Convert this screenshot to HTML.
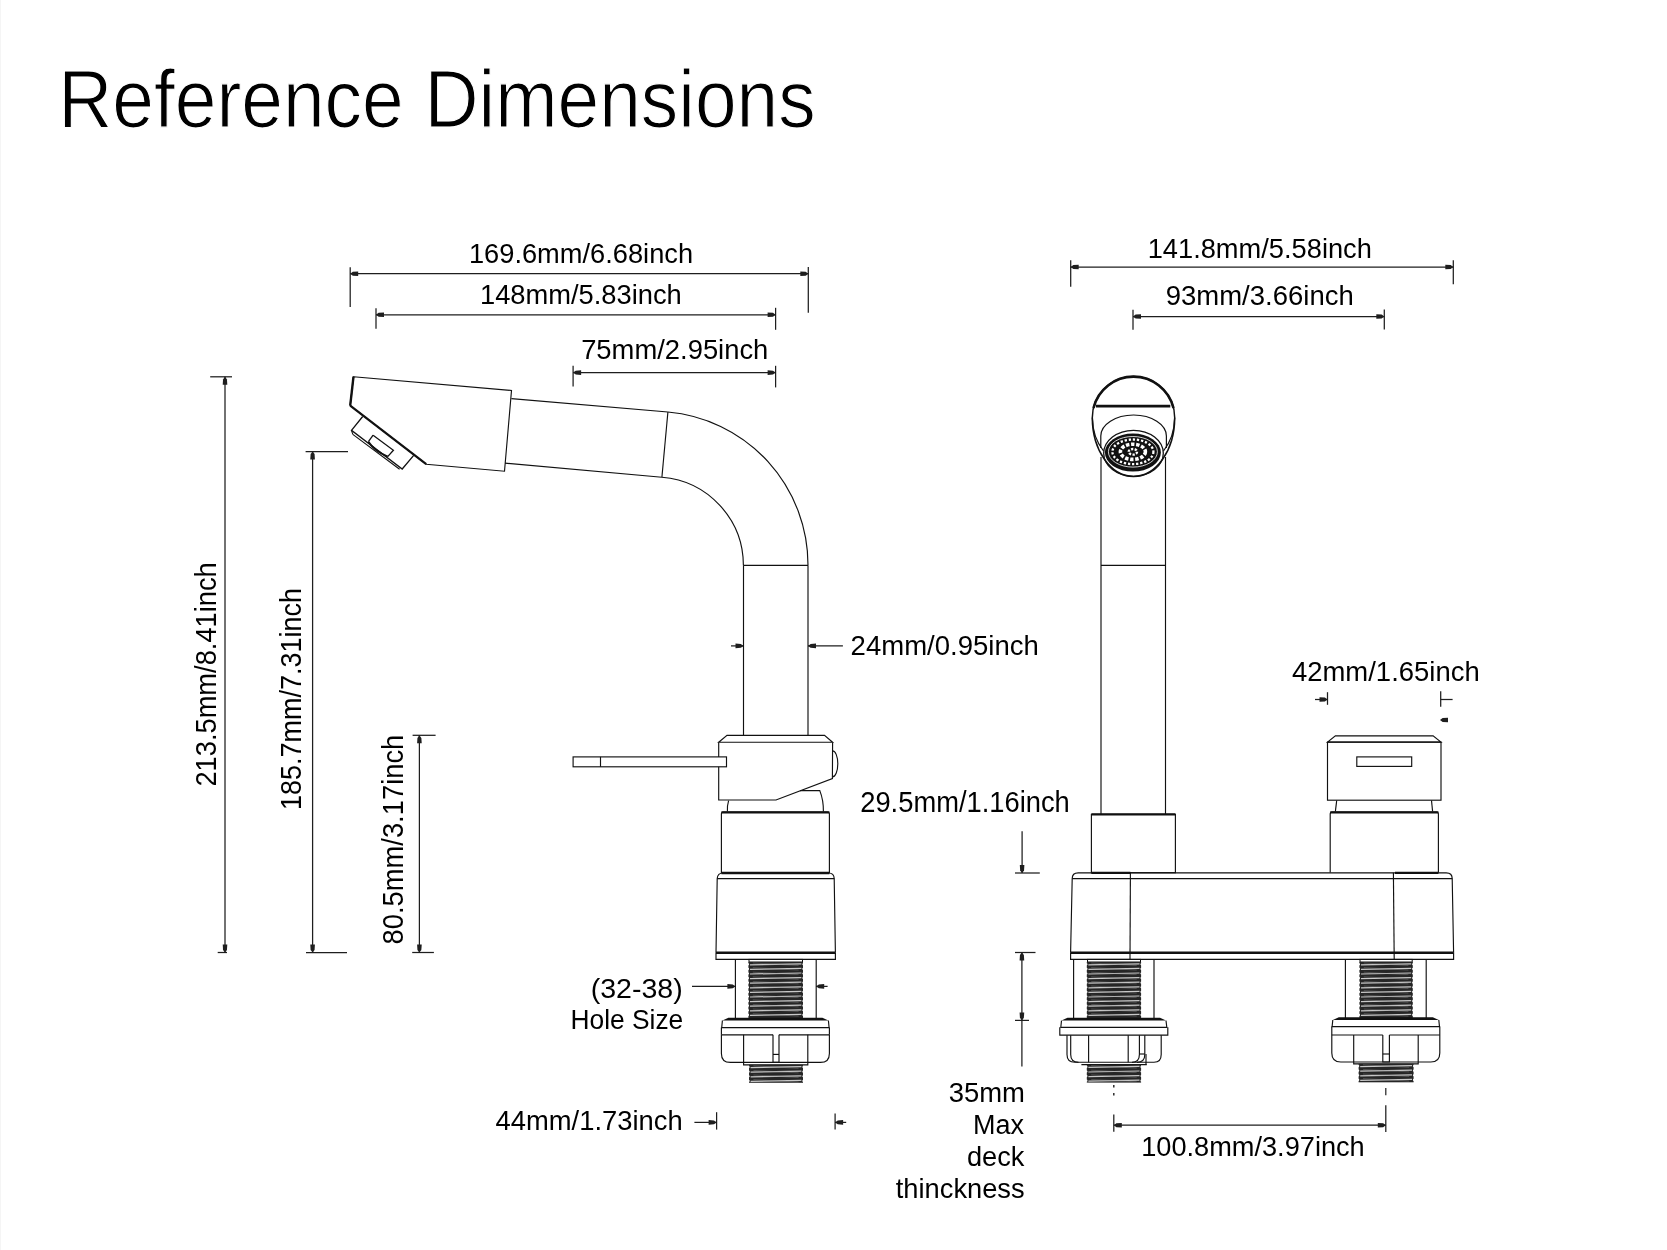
<!DOCTYPE html>
<html><head><meta charset="utf-8"><title>Reference Dimensions</title>
<style>
html,body{margin:0;padding:0;background:#fff;}
body{width:1667px;height:1250px;overflow:hidden;border-left:1px solid #f2f2f2;box-sizing:border-box;}
svg{position:absolute;left:0;top:0;display:block;will-change:transform;}
text{font-family:"Liberation Sans",sans-serif;}
</style></head><body>
<svg width="1667" height="1250" viewBox="0 0 1667 1250">
<rect x="0" y="0" width="1667" height="1250" fill="#fff"/>
<line x1="0.5" y1="0" x2="0.5" y2="1250" stroke="#f5f5f5" stroke-width="1"/>
<text transform="translate(58.22 126.80) scale(0.9128 1)" font-size="82.04" fill="#000" stroke="#fff" stroke-width="1.2">Reference Dimensions</text>
<text transform="translate(468.96 263.20) scale(0.9758 1)" font-size="27.93" fill="#000">169.6mm/6.68inch</text>
<text transform="translate(479.95 304.20) scale(0.9782 1)" font-size="27.93" fill="#000">148mm/5.83inch</text>
<text transform="translate(581.13 358.90) scale(0.9806 1)" font-size="27.93" fill="#000">75mm/2.95inch</text>
<line x1="350.2" y1="267.2" x2="350.2" y2="307" stroke="#1e1e1e" stroke-width="1.25"/>
<line x1="808.3" y1="267.1" x2="808.3" y2="312.7" stroke="#1e1e1e" stroke-width="1.25"/>
<line x1="350.2" y1="273.7" x2="808.3" y2="273.7" stroke="#1e1e1e" stroke-width="1.25"/>
<path d="M350.20 273.70 L352.80 271.75 L358.20 271.40 L358.20 276.00 L352.80 275.65Z" fill="#1e1e1e"/>
<path d="M808.30 273.70 L805.70 271.75 L800.30 271.40 L800.30 276.00 L805.70 275.65Z" fill="#1e1e1e"/>
<line x1="376" y1="308.2" x2="376" y2="328.7" stroke="#1e1e1e" stroke-width="1.25"/>
<line x1="775.6" y1="307.8" x2="775.6" y2="329.8" stroke="#1e1e1e" stroke-width="1.25"/>
<line x1="376" y1="314.8" x2="775.6" y2="314.8" stroke="#1e1e1e" stroke-width="1.25"/>
<path d="M376.00 314.80 L378.60 312.85 L384.00 312.50 L384.00 317.10 L378.60 316.75Z" fill="#1e1e1e"/>
<path d="M775.60 314.80 L773.00 312.85 L767.60 312.50 L767.60 317.10 L773.00 316.75Z" fill="#1e1e1e"/>
<line x1="573.1" y1="365.8" x2="573.1" y2="386.5" stroke="#1e1e1e" stroke-width="1.25"/>
<line x1="775.6" y1="365.8" x2="775.6" y2="387.4" stroke="#1e1e1e" stroke-width="1.25"/>
<line x1="573.1" y1="372.6" x2="775.6" y2="372.6" stroke="#1e1e1e" stroke-width="1.25"/>
<path d="M573.10 372.60 L575.70 370.65 L581.10 370.30 L581.10 374.90 L575.70 374.56Z" fill="#1e1e1e"/>
<path d="M775.60 372.60 L773.00 370.65 L767.60 370.30 L767.60 374.90 L773.00 374.56Z" fill="#1e1e1e"/>
<text transform="translate(216.00 786.56) rotate(-90) scale(0.9472 1)" font-size="28.80" fill="#000">213.5mm/8.41inch</text>
<text transform="translate(301.00 810.02) rotate(-90) scale(0.9372 1)" font-size="28.80" fill="#000">185.7mm/7.31inch</text>
<text transform="translate(402.50 944.46) rotate(-90) scale(0.9496 1)" font-size="28.80" fill="#000">80.5mm/3.17inch</text>
<line x1="210.2" y1="376.8" x2="232" y2="376.8" stroke="#1e1e1e" stroke-width="1.25"/>
<line x1="217.7" y1="952.5" x2="227" y2="952.5" stroke="#1e1e1e" stroke-width="1.25"/>
<line x1="225" y1="376.8" x2="225" y2="952.5" stroke="#1e1e1e" stroke-width="1.25"/>
<path d="M225.00 376.80 L223.04 379.40 L222.70 384.80 L227.30 384.80 L226.96 379.40Z" fill="#1e1e1e"/>
<path d="M225.00 952.50 L223.04 949.90 L222.70 944.50 L227.30 944.50 L226.96 949.90Z" fill="#1e1e1e"/>
<line x1="305.6" y1="451.5" x2="348" y2="451.5" stroke="#1e1e1e" stroke-width="1.25"/>
<line x1="306" y1="952.5" x2="347" y2="952.5" stroke="#1e1e1e" stroke-width="1.25"/>
<line x1="312.6" y1="451.5" x2="312.6" y2="952.5" stroke="#1e1e1e" stroke-width="1.25"/>
<path d="M312.60 451.50 L310.65 454.10 L310.30 459.50 L314.90 459.50 L314.56 454.10Z" fill="#1e1e1e"/>
<path d="M312.60 952.50 L310.65 949.90 L310.30 944.50 L314.90 944.50 L314.56 949.90Z" fill="#1e1e1e"/>
<line x1="412.6" y1="735.3" x2="435.6" y2="735.3" stroke="#1e1e1e" stroke-width="1.25"/>
<line x1="412.2" y1="952.5" x2="433.9" y2="952.5" stroke="#1e1e1e" stroke-width="1.25"/>
<line x1="419.4" y1="735.3" x2="419.4" y2="952.5" stroke="#1e1e1e" stroke-width="1.25"/>
<path d="M419.40 735.30 L417.44 737.90 L417.10 743.30 L421.70 743.30 L421.35 737.90Z" fill="#1e1e1e"/>
<path d="M419.40 952.50 L417.44 949.90 L417.10 944.50 L421.70 944.50 L421.35 949.90Z" fill="#1e1e1e"/>
<text transform="translate(850.62 654.90) scale(0.9808 1)" font-size="28.07" fill="#000">24mm/0.95inch</text>
<line x1="731" y1="645.9" x2="743.5" y2="645.9" stroke="#1e1e1e" stroke-width="1.25"/>
<path d="M743.50 645.90 L740.90 643.94 L735.50 643.60 L735.50 648.20 L740.90 647.86Z" fill="#1e1e1e"/>
<line x1="808" y1="645.9" x2="842.9" y2="645.9" stroke="#1e1e1e" stroke-width="1.25"/>
<path d="M808.00 645.90 L810.60 643.94 L816.00 643.60 L816.00 648.20 L810.60 647.86Z" fill="#1e1e1e"/>
<text transform="translate(590.72 997.50) scale(1.0440 1)" font-size="27.35" fill="#000">(32-38)</text>
<text transform="translate(570.53 1029.00) scale(0.9637 1)" font-size="27.35" fill="#000">Hole Size</text>
<line x1="692" y1="986.4" x2="735.4" y2="986.4" stroke="#1e1e1e" stroke-width="1.25"/>
<path d="M735.40 986.40 L732.80 984.44 L727.40 984.10 L727.40 988.70 L732.80 988.36Z" fill="#1e1e1e"/>
<line x1="816.2" y1="986.4" x2="827.6" y2="986.4" stroke="#1e1e1e" stroke-width="1.25"/>
<path d="M816.20 986.40 L818.80 984.44 L824.20 984.10 L824.20 988.70 L818.80 988.36Z" fill="#1e1e1e"/>
<text transform="translate(495.58 1129.90) scale(0.9803 1)" font-size="27.93" fill="#000">44mm/1.73inch</text>
<line x1="716.6" y1="1112.2" x2="716.6" y2="1129.6" stroke="#1e1e1e" stroke-width="1.25"/>
<line x1="694.4" y1="1122.4" x2="716.6" y2="1122.4" stroke="#1e1e1e" stroke-width="1.25"/>
<path d="M716.60 1122.40 L714.00 1120.45 L708.60 1120.10 L708.60 1124.70 L714.00 1124.36Z" fill="#1e1e1e"/>
<line x1="835.1" y1="1113.4" x2="835.1" y2="1129.6" stroke="#1e1e1e" stroke-width="1.25"/>
<line x1="835.1" y1="1122.4" x2="846.2" y2="1122.4" stroke="#1e1e1e" stroke-width="1.25"/>
<path d="M835.10 1122.40 L837.70 1120.45 L843.10 1120.10 L843.10 1124.70 L837.70 1124.36Z" fill="#1e1e1e"/>
<path d="M353.5 376.7 L511.5 390.5 L504.5 471.2 L426.2 464.2 L350.2 405.6 Z" stroke="#111" stroke-width="1.15" fill="none" />
<line x1="353.5" y1="376.7" x2="350.2" y2="405.6" stroke="#111" stroke-width="2.4"/>
<line x1="350.2" y1="405.6" x2="426.2" y2="464.2" stroke="#111" stroke-width="2.2"/>
<path d="M362.7 416.5 L351.5 430.3 L402.2 469 L413.7 455.3" stroke="#111" stroke-width="1.3" fill="none" />
<line x1="352.8" y1="434.4" x2="399.6" y2="469.3" stroke="#111" stroke-width="1.1"/>
<line x1="351.5" y1="430.3" x2="352.8" y2="434.4" stroke="#111" stroke-width="1.1"/>
<path d="M373.1 435.2 L393.4 450.3 L387.7 456.6" stroke="#111" stroke-width="1.3" fill="none" />
<path d="M373.1 435.2 L368.4 441.7" stroke="#111" stroke-width="1.3" fill="none" />
<path d="M368.4 441.7 Q374 450.5 387.7 456.6" stroke="#111" stroke-width="2.0" fill="none" />
<line x1="511.4" y1="398.6" x2="667.9" y2="412" stroke="#111" stroke-width="1.15"/>
<line x1="505" y1="463.1" x2="661.9" y2="477.2" stroke="#111" stroke-width="1.15"/>
<line x1="667.9" y1="412" x2="661.9" y2="477.2" stroke="#111" stroke-width="1.15"/>
<path d="M667.9 412 A153.6 153.6 0 0 1 808 565.3" stroke="#111" stroke-width="1.15" fill="none" />
<path d="M661.9 477.2 A88.6 88.6 0 0 1 743.4 565.3" stroke="#111" stroke-width="1.15" fill="none" />
<line x1="743.4" y1="565.3" x2="808" y2="565.3" stroke="#111" stroke-width="1.15"/>
<line x1="743.5" y1="565.3" x2="743.5" y2="735.3" stroke="#111" stroke-width="1.15"/>
<line x1="808" y1="565.3" x2="808" y2="735.3" stroke="#111" stroke-width="1.15"/>
<path d="M727 735.3 L824.5 735.3 L832.6 742.2 L718.7 742.2 Z" stroke="#111" stroke-width="1.15" fill="none" />
<path d="M718.7 742.2 L718.7 800 L776 800 L832.4 778.6 L832.6 742.2" stroke="#111" stroke-width="1.15" fill="none" />
<path d="M832.6 750.8 A5.2 13 0 0 1 832.6 776.8" stroke="#111" stroke-width="1.15" fill="none" />
<rect x="573.1" y="756.9" width="153.40" height="9.90" stroke="#111" stroke-width="1.15" fill="#fff"/>
<line x1="600.5" y1="756.9" x2="600.5" y2="766.8" stroke="#111" stroke-width="1.15"/>
<path d="M728.6 800.6 Q727 806 727.4 811.4" stroke="#111" stroke-width="1.15" fill="none" />
<path d="M800 790.6 L819.8 790.6 Q823.5 800 823.4 811.4" stroke="#111" stroke-width="1.15" fill="none" />
<path d="M721.4 873 L721.4 814 Q721.4 812 723.4 812 L827.4 812 Q829.4 812 829.4 814 L829.4 873" stroke="#111" stroke-width="1.15" fill="none" />
<line x1="721.4" y1="812.3" x2="829.4" y2="812.3" stroke="#111" stroke-width="2.2"/>
<line x1="721.4" y1="873" x2="829.4" y2="873" stroke="#111" stroke-width="2.4"/>
<path d="M716 952.8 L717.2 878.6 Q717.6 873 723 873 M828.5 873 Q834 873 834.2 878.6 L835.4 952.8" stroke="#111" stroke-width="1.15" fill="none" />
<line x1="717.2" y1="878.6" x2="834.2" y2="878.6" stroke="#111" stroke-width="1.15"/>
<line x1="716" y1="952.8" x2="835.4" y2="952.8" stroke="#111" stroke-width="2.4"/>
<path d="M716 952.8 L716 959.4 L835.4 959.4 L835.4 952.8" stroke="#111" stroke-width="1.15" fill="none" />
<line x1="735.4" y1="959.4" x2="735.4" y2="1018" stroke="#111" stroke-width="1.15"/>
<line x1="816.2" y1="959.4" x2="816.2" y2="1018" stroke="#111" stroke-width="1.15"/>
<rect x="749" y="959.4" width="53.50" height="2.60" stroke="#111" stroke-width="1.0" fill="none"/>
<rect x="748.4" y="962" width="54.60" height="56.50" fill="#262626"/>
<line x1="750.0" y1="964.80" x2="801.4" y2="963.80" stroke="#fff" stroke-width="1.25" opacity="0.75"/>
<line x1="752.8" y1="963.00" x2="798.6" y2="965.50" stroke="#888" stroke-width="0.6" opacity="0.7"/>
<circle cx="748.0" cy="964.30" r="1.1" fill="#fff"/>
<circle cx="803.4" cy="964.30" r="1.1" fill="#fff"/>
<line x1="750.0" y1="969.40" x2="801.4" y2="968.40" stroke="#fff" stroke-width="1.25" opacity="0.75"/>
<line x1="752.8" y1="967.60" x2="798.6" y2="970.10" stroke="#888" stroke-width="0.6" opacity="0.7"/>
<circle cx="748.0" cy="968.90" r="1.1" fill="#fff"/>
<circle cx="803.4" cy="968.90" r="1.1" fill="#fff"/>
<line x1="750.0" y1="974.00" x2="801.4" y2="973.00" stroke="#fff" stroke-width="1.25" opacity="0.75"/>
<line x1="752.8" y1="972.20" x2="798.6" y2="974.70" stroke="#888" stroke-width="0.6" opacity="0.7"/>
<circle cx="748.0" cy="973.50" r="1.1" fill="#fff"/>
<circle cx="803.4" cy="973.50" r="1.1" fill="#fff"/>
<line x1="750.0" y1="978.60" x2="801.4" y2="977.60" stroke="#fff" stroke-width="1.25" opacity="0.75"/>
<line x1="752.8" y1="976.80" x2="798.6" y2="979.30" stroke="#888" stroke-width="0.6" opacity="0.7"/>
<circle cx="748.0" cy="978.10" r="1.1" fill="#fff"/>
<circle cx="803.4" cy="978.10" r="1.1" fill="#fff"/>
<line x1="750.0" y1="983.20" x2="801.4" y2="982.20" stroke="#fff" stroke-width="1.25" opacity="0.75"/>
<line x1="752.8" y1="981.40" x2="798.6" y2="983.90" stroke="#888" stroke-width="0.6" opacity="0.7"/>
<circle cx="748.0" cy="982.70" r="1.1" fill="#fff"/>
<circle cx="803.4" cy="982.70" r="1.1" fill="#fff"/>
<line x1="750.0" y1="987.80" x2="801.4" y2="986.80" stroke="#fff" stroke-width="1.25" opacity="0.75"/>
<line x1="752.8" y1="986.00" x2="798.6" y2="988.50" stroke="#888" stroke-width="0.6" opacity="0.7"/>
<circle cx="748.0" cy="987.30" r="1.1" fill="#fff"/>
<circle cx="803.4" cy="987.30" r="1.1" fill="#fff"/>
<line x1="750.0" y1="992.40" x2="801.4" y2="991.40" stroke="#fff" stroke-width="1.25" opacity="0.75"/>
<line x1="752.8" y1="990.60" x2="798.6" y2="993.10" stroke="#888" stroke-width="0.6" opacity="0.7"/>
<circle cx="748.0" cy="991.90" r="1.1" fill="#fff"/>
<circle cx="803.4" cy="991.90" r="1.1" fill="#fff"/>
<line x1="750.0" y1="997.00" x2="801.4" y2="996.00" stroke="#fff" stroke-width="1.25" opacity="0.75"/>
<line x1="752.8" y1="995.20" x2="798.6" y2="997.70" stroke="#888" stroke-width="0.6" opacity="0.7"/>
<circle cx="748.0" cy="996.50" r="1.1" fill="#fff"/>
<circle cx="803.4" cy="996.50" r="1.1" fill="#fff"/>
<line x1="750.0" y1="1001.60" x2="801.4" y2="1000.60" stroke="#fff" stroke-width="1.25" opacity="0.75"/>
<line x1="752.8" y1="999.80" x2="798.6" y2="1002.30" stroke="#888" stroke-width="0.6" opacity="0.7"/>
<circle cx="748.0" cy="1001.10" r="1.1" fill="#fff"/>
<circle cx="803.4" cy="1001.10" r="1.1" fill="#fff"/>
<line x1="750.0" y1="1006.20" x2="801.4" y2="1005.20" stroke="#fff" stroke-width="1.25" opacity="0.75"/>
<line x1="752.8" y1="1004.40" x2="798.6" y2="1006.90" stroke="#888" stroke-width="0.6" opacity="0.7"/>
<circle cx="748.0" cy="1005.70" r="1.1" fill="#fff"/>
<circle cx="803.4" cy="1005.70" r="1.1" fill="#fff"/>
<line x1="750.0" y1="1010.80" x2="801.4" y2="1009.80" stroke="#fff" stroke-width="1.25" opacity="0.75"/>
<line x1="752.8" y1="1009.00" x2="798.6" y2="1011.50" stroke="#888" stroke-width="0.6" opacity="0.7"/>
<circle cx="748.0" cy="1010.30" r="1.1" fill="#fff"/>
<circle cx="803.4" cy="1010.30" r="1.1" fill="#fff"/>
<line x1="750.0" y1="1015.40" x2="801.4" y2="1014.40" stroke="#fff" stroke-width="1.25" opacity="0.75"/>
<line x1="752.8" y1="1013.60" x2="798.6" y2="1016.10" stroke="#888" stroke-width="0.6" opacity="0.7"/>
<circle cx="748.0" cy="1014.90" r="1.1" fill="#fff"/>
<circle cx="803.4" cy="1014.90" r="1.1" fill="#fff"/>
<path d="M728.4 1017.6999999999999 L822.4 1017.6999999999999 L828.4 1020.5 L722.4 1020.5Z" fill="#111"/>
<path d="M722.4 1020.5 L721.6999999999999 1027.6 L829.1 1027.6 L828.4 1020.5" stroke="#111" stroke-width="1.15" fill="none" />
<path d="M721.4 1027.6 L721.4 1034.8 M829.4 1027.6 L829.4 1034.8" stroke="#111" stroke-width="1.15" fill="none" />
<line x1="721.4" y1="1034.8" x2="773" y2="1034.8" stroke="#111" stroke-width="1.15"/>
<line x1="779" y1="1034.8" x2="829.4" y2="1034.8" stroke="#111" stroke-width="1.15"/>
<path d="M721.4 1034.8 L721.4 1053.4 Q721.4 1062.4 730.4 1062.4 L820.4 1062.4 Q829.4 1062.4 829.4 1053.4 L829.4 1034.8" stroke="#111" stroke-width="1.15" fill="none" />
<path d="M743.6 1034.8 L743.6 1064.8 L807.8 1064.8 L807.8 1034.8" stroke="#111" stroke-width="1.15" fill="none" />
<path d="M773 1034.8 L773 1062.4 L779 1062.4 L779 1034.8" stroke="#111" stroke-width="1.15" fill="none" />
<line x1="773" y1="1054.4" x2="779" y2="1054.4" stroke="#111" stroke-width="1.15"/>
<rect x="749.0" y="1064.8" width="54.00" height="18.00" fill="#262626"/>
<line x1="750.6" y1="1067.60" x2="801.4" y2="1066.60" stroke="#fff" stroke-width="1.25" opacity="0.75"/>
<line x1="753.4" y1="1065.80" x2="798.6" y2="1068.30" stroke="#888" stroke-width="0.6" opacity="0.7"/>
<circle cx="748.6" cy="1067.10" r="1.1" fill="#fff"/>
<circle cx="803.4" cy="1067.10" r="1.1" fill="#fff"/>
<line x1="750.6" y1="1072.20" x2="801.4" y2="1071.20" stroke="#fff" stroke-width="1.25" opacity="0.75"/>
<line x1="753.4" y1="1070.40" x2="798.6" y2="1072.90" stroke="#888" stroke-width="0.6" opacity="0.7"/>
<circle cx="748.6" cy="1071.70" r="1.1" fill="#fff"/>
<circle cx="803.4" cy="1071.70" r="1.1" fill="#fff"/>
<line x1="750.6" y1="1076.80" x2="801.4" y2="1075.80" stroke="#fff" stroke-width="1.25" opacity="0.75"/>
<line x1="753.4" y1="1075.00" x2="798.6" y2="1077.50" stroke="#888" stroke-width="0.6" opacity="0.7"/>
<circle cx="748.6" cy="1076.30" r="1.1" fill="#fff"/>
<circle cx="803.4" cy="1076.30" r="1.1" fill="#fff"/>
<line x1="750.6" y1="1081.40" x2="801.4" y2="1080.40" stroke="#fff" stroke-width="1.25" opacity="0.75"/>
<line x1="753.4" y1="1079.60" x2="798.6" y2="1082.10" stroke="#888" stroke-width="0.6" opacity="0.7"/>
<circle cx="748.6" cy="1080.90" r="1.1" fill="#fff"/>
<circle cx="803.4" cy="1080.90" r="1.1" fill="#fff"/>
<text transform="translate(1147.66 258.20) scale(0.9662 1)" font-size="28.22" fill="#000">141.8mm/5.58inch</text>
<text transform="translate(1165.69 305.00) scale(0.9850 1)" font-size="27.93" fill="#000">93mm/3.66inch</text>
<line x1="1070.7" y1="260.2" x2="1070.7" y2="286.7" stroke="#1e1e1e" stroke-width="1.25"/>
<line x1="1453.3" y1="260.2" x2="1453.3" y2="284.2" stroke="#1e1e1e" stroke-width="1.25"/>
<line x1="1070.7" y1="267" x2="1453.3" y2="267" stroke="#1e1e1e" stroke-width="1.25"/>
<path d="M1070.70 267.00 L1073.30 265.05 L1078.70 264.70 L1078.70 269.30 L1073.30 268.95Z" fill="#1e1e1e"/>
<path d="M1453.30 267.00 L1450.70 265.05 L1445.30 264.70 L1445.30 269.30 L1450.70 268.95Z" fill="#1e1e1e"/>
<line x1="1133" y1="309.7" x2="1133" y2="329.8" stroke="#1e1e1e" stroke-width="1.25"/>
<line x1="1384.3" y1="309.4" x2="1384.3" y2="329.4" stroke="#1e1e1e" stroke-width="1.25"/>
<line x1="1133" y1="316.5" x2="1384.3" y2="316.5" stroke="#1e1e1e" stroke-width="1.25"/>
<path d="M1133.00 316.50 L1135.60 314.55 L1141.00 314.20 L1141.00 318.80 L1135.60 318.45Z" fill="#1e1e1e"/>
<path d="M1384.30 316.50 L1381.70 314.55 L1376.30 314.20 L1376.30 318.80 L1381.70 318.45Z" fill="#1e1e1e"/>
<text transform="translate(1291.88 681.00) scale(0.9892 1)" font-size="27.78" fill="#000">42mm/1.65inch</text>
<line x1="1315" y1="699.5" x2="1327.5" y2="699.5" stroke="#1e1e1e" stroke-width="1.25"/>
<path d="M1327.50 699.50 L1324.90 697.54 L1319.50 697.20 L1319.50 701.80 L1324.90 701.46Z" fill="#1e1e1e"/>
<line x1="1327.5" y1="692.2" x2="1327.5" y2="704.8" stroke="#1e1e1e" stroke-width="1.25"/>
<line x1="1440.7" y1="691.2" x2="1440.7" y2="706.7" stroke="#1e1e1e" stroke-width="1.25"/>
<line x1="1440.7" y1="699.5" x2="1452.6" y2="699.5" stroke="#1e1e1e" stroke-width="1.25"/>
<path d="M1440.00 720.00 L1442.60 718.04 L1448.00 717.70 L1448.00 722.30 L1442.60 721.96Z" fill="#1e1e1e"/>
<text transform="translate(860.23 812.00) scale(0.9540 1)" font-size="28.65" fill="#000">29.5mm/1.16inch</text>
<line x1="1022.1" y1="831.2" x2="1022.1" y2="873" stroke="#1e1e1e" stroke-width="1.25"/>
<path d="M1022.10 873.00 L1020.14 870.40 L1019.80 865.00 L1024.40 865.00 L1024.06 870.40Z" fill="#1e1e1e"/>
<line x1="1015" y1="873" x2="1039.8" y2="873" stroke="#1e1e1e" stroke-width="1.25"/>
<line x1="1021.9" y1="952.5" x2="1021.9" y2="1066.4" stroke="#1e1e1e" stroke-width="1.25"/>
<line x1="1015" y1="952.5" x2="1035.5" y2="952.5" stroke="#1e1e1e" stroke-width="1.25"/>
<path d="M1021.90 952.50 L1019.94 955.10 L1019.60 960.50 L1024.20 960.50 L1023.86 955.10Z" fill="#1e1e1e"/>
<line x1="1015" y1="1020.4" x2="1029" y2="1020.4" stroke="#1e1e1e" stroke-width="1.25"/>
<path d="M1021.90 1020.40 L1019.94 1017.80 L1019.60 1012.40 L1024.20 1012.40 L1023.86 1017.80Z" fill="#1e1e1e"/>
<text transform="translate(948.67 1101.90) scale(0.9724 1)" font-size="28.22" fill="#000">35mm</text>
<text transform="translate(972.97 1133.80) scale(0.9777 1)" font-size="27.64" fill="#000">Max</text>
<text transform="translate(966.94 1165.70) scale(1.0078 1)" font-size="27.03" fill="#000">deck</text>
<text transform="translate(895.79 1197.70) scale(1.0037 1)" font-size="27.17" fill="#000">thinckness</text>
<text transform="translate(1141.16 1155.80) scale(0.9736 1)" font-size="27.93" fill="#000">100.8mm/3.97inch</text>
<line x1="1113.8" y1="1114.4" x2="1113.8" y2="1131.8" stroke="#1e1e1e" stroke-width="1.25"/>
<line x1="1385.8" y1="1105.3" x2="1385.8" y2="1132" stroke="#1e1e1e" stroke-width="1.25"/>
<line x1="1113.8" y1="1125.2" x2="1385.8" y2="1125.2" stroke="#1e1e1e" stroke-width="1.25"/>
<path d="M1113.80 1125.20 L1116.40 1123.25 L1121.80 1122.90 L1121.80 1127.50 L1116.40 1127.15Z" fill="#1e1e1e"/>
<path d="M1385.80 1125.20 L1383.20 1123.25 L1377.80 1122.90 L1377.80 1127.50 L1383.20 1127.15Z" fill="#1e1e1e"/>
<line x1="1113.8" y1="1085" x2="1113.8" y2="1087.5" stroke="#1e1e1e" stroke-width="1.4"/>
<line x1="1113.8" y1="1093" x2="1113.8" y2="1095.5" stroke="#1e1e1e" stroke-width="1.4"/>
<line x1="1385.8" y1="1088" x2="1385.8" y2="1095.3" stroke="#1e1e1e" stroke-width="1.2"/>
<path d="M1092.3 417.7 A41.2 41.2 0 0 1 1174.7 417.7 A41.2 58.8 0 0 1 1092.3 417.7Z" stroke="#111" stroke-width="1.5" fill="#fff" />
<path d="M1093.5 408 A41.2 41.2 0 0 1 1173.5 408" stroke="#111" stroke-width="2.6" fill="none" />
<path d="M1092.3 417.7 A41.2 50 0 0 0 1103.5 451" stroke="#111" stroke-width="1.2" fill="none" />
<path d="M1174.7 417.7 A41.2 50 0 0 1 1163.5 451" stroke="#111" stroke-width="1.2" fill="none" />
<line x1="1096" y1="406.1" x2="1170.3" y2="406.1" stroke="#111" stroke-width="2.6"/>
<path d="M1100.8 448 L1100.8 436 A32.8 21 0 0 1 1166.4 436 L1166.4 448" stroke="#111" stroke-width="1.2" fill="none" />
<ellipse cx="1133.5" cy="453.3" rx="29.8" ry="23" stroke="#111" stroke-width="1.3" fill="none"/>
<ellipse cx="1132.9" cy="452.6" rx="28" ry="19" fill="#111"/>
<ellipse cx="1132.9" cy="451.8" rx="24.5" ry="15.3" stroke="#fff" stroke-width="0.8" fill="none"/>
<ellipse cx="1132.9" cy="451.8" rx="20.5" ry="12.3" stroke="#fff" stroke-width="2.3" fill="none" stroke-dasharray="2.3 1.8"/>
<ellipse cx="1132.9" cy="451.8" rx="12.5" ry="7.6" stroke="#fff" stroke-width="3.6" fill="none" stroke-dasharray="3.4 1.7"/>
<ellipse cx="1132.9" cy="451.8" rx="4.2" ry="2.8" stroke="#fff" stroke-width="2.4" fill="none" stroke-dasharray="2.2 1.4"/>
<line x1="1101" y1="457" x2="1101" y2="814.2" stroke="#111" stroke-width="1.15"/>
<line x1="1165.5" y1="457" x2="1165.5" y2="814.2" stroke="#111" stroke-width="1.15"/>
<line x1="1101" y1="565.4" x2="1165.5" y2="565.4" stroke="#111" stroke-width="1.15"/>
<rect x="1091.4" y="814.4" width="84.00" height="58.30" stroke="#111" stroke-width="1.15" fill="none"/>
<line x1="1091.4" y1="814.4" x2="1175.4" y2="814.4" stroke="#111" stroke-width="2.4"/>
<path d="M1070.6 952.8 L1072.2 878.6 Q1072.2 872.8 1078.2 872.8 L1446.2 872.8 Q1452.2 872.8 1452.2 878.6 L1453.6 952.8" stroke="#111" stroke-width="1.15" fill="none" />
<line x1="1072.2" y1="878.6" x2="1452.2" y2="878.6" stroke="#111" stroke-width="1.15"/>
<line x1="1091.4" y1="872.8" x2="1130.4" y2="872.8" stroke="#111" stroke-width="2.2"/>
<line x1="1395" y1="872.8" x2="1438.4" y2="872.8" stroke="#111" stroke-width="2.2"/>
<line x1="1130.4" y1="872.8" x2="1130" y2="959.4" stroke="#111" stroke-width="1.15"/>
<line x1="1393.4" y1="872.8" x2="1394.2" y2="959.4" stroke="#111" stroke-width="1.15"/>
<line x1="1070.6" y1="952.8" x2="1453.6" y2="952.8" stroke="#111" stroke-width="2.4"/>
<path d="M1070.6 952.8 L1070.6 959.4 L1453.6 959.4 L1453.6 952.8" stroke="#111" stroke-width="1.15" fill="none" />
<path d="M1335.4 735.8 L1433.1 735.8 L1441 742.1 L1327.5 742.1 Z" stroke="#111" stroke-width="1.15" fill="none" />
<rect x="1327.5" y="742.1" width="113.50" height="58.10" stroke="#111" stroke-width="1.15" fill="none"/>
<rect x="1356.8" y="756.9" width="54.90" height="9.50" stroke="#111" stroke-width="1.15" fill="none"/>
<line x1="1336.7" y1="800.5" x2="1335.4" y2="811.4" stroke="#111" stroke-width="1.15"/>
<line x1="1431.5" y1="800.5" x2="1432.6" y2="811.4" stroke="#111" stroke-width="1.15"/>
<path d="M1330.2 872.6 L1330.2 814 Q1330.2 812 1332.2 812 L1436.4 812 Q1438.4 812 1438.4 814 L1438.4 872.6" stroke="#111" stroke-width="1.15" fill="none" />
<line x1="1330.2" y1="812.3" x2="1438.4" y2="812.3" stroke="#111" stroke-width="2.2"/>
<line x1="1073.6" y1="959.4" x2="1073.6" y2="1018" stroke="#111" stroke-width="1.15"/>
<line x1="1154" y1="959.4" x2="1154" y2="1018" stroke="#111" stroke-width="1.15"/>
<rect x="1087.5" y="959.4" width="53.00" height="2.60" stroke="#111" stroke-width="1.0" fill="none"/>
<rect x="1086.8" y="962" width="54.30" height="56.50" fill="#262626"/>
<line x1="1088.4" y1="964.80" x2="1139.5" y2="963.80" stroke="#fff" stroke-width="1.25" opacity="0.75"/>
<line x1="1091.2" y1="963.00" x2="1136.7" y2="965.50" stroke="#888" stroke-width="0.6" opacity="0.7"/>
<circle cx="1086.4" cy="964.30" r="1.1" fill="#fff"/>
<circle cx="1141.5" cy="964.30" r="1.1" fill="#fff"/>
<line x1="1088.4" y1="969.40" x2="1139.5" y2="968.40" stroke="#fff" stroke-width="1.25" opacity="0.75"/>
<line x1="1091.2" y1="967.60" x2="1136.7" y2="970.10" stroke="#888" stroke-width="0.6" opacity="0.7"/>
<circle cx="1086.4" cy="968.90" r="1.1" fill="#fff"/>
<circle cx="1141.5" cy="968.90" r="1.1" fill="#fff"/>
<line x1="1088.4" y1="974.00" x2="1139.5" y2="973.00" stroke="#fff" stroke-width="1.25" opacity="0.75"/>
<line x1="1091.2" y1="972.20" x2="1136.7" y2="974.70" stroke="#888" stroke-width="0.6" opacity="0.7"/>
<circle cx="1086.4" cy="973.50" r="1.1" fill="#fff"/>
<circle cx="1141.5" cy="973.50" r="1.1" fill="#fff"/>
<line x1="1088.4" y1="978.60" x2="1139.5" y2="977.60" stroke="#fff" stroke-width="1.25" opacity="0.75"/>
<line x1="1091.2" y1="976.80" x2="1136.7" y2="979.30" stroke="#888" stroke-width="0.6" opacity="0.7"/>
<circle cx="1086.4" cy="978.10" r="1.1" fill="#fff"/>
<circle cx="1141.5" cy="978.10" r="1.1" fill="#fff"/>
<line x1="1088.4" y1="983.20" x2="1139.5" y2="982.20" stroke="#fff" stroke-width="1.25" opacity="0.75"/>
<line x1="1091.2" y1="981.40" x2="1136.7" y2="983.90" stroke="#888" stroke-width="0.6" opacity="0.7"/>
<circle cx="1086.4" cy="982.70" r="1.1" fill="#fff"/>
<circle cx="1141.5" cy="982.70" r="1.1" fill="#fff"/>
<line x1="1088.4" y1="987.80" x2="1139.5" y2="986.80" stroke="#fff" stroke-width="1.25" opacity="0.75"/>
<line x1="1091.2" y1="986.00" x2="1136.7" y2="988.50" stroke="#888" stroke-width="0.6" opacity="0.7"/>
<circle cx="1086.4" cy="987.30" r="1.1" fill="#fff"/>
<circle cx="1141.5" cy="987.30" r="1.1" fill="#fff"/>
<line x1="1088.4" y1="992.40" x2="1139.5" y2="991.40" stroke="#fff" stroke-width="1.25" opacity="0.75"/>
<line x1="1091.2" y1="990.60" x2="1136.7" y2="993.10" stroke="#888" stroke-width="0.6" opacity="0.7"/>
<circle cx="1086.4" cy="991.90" r="1.1" fill="#fff"/>
<circle cx="1141.5" cy="991.90" r="1.1" fill="#fff"/>
<line x1="1088.4" y1="997.00" x2="1139.5" y2="996.00" stroke="#fff" stroke-width="1.25" opacity="0.75"/>
<line x1="1091.2" y1="995.20" x2="1136.7" y2="997.70" stroke="#888" stroke-width="0.6" opacity="0.7"/>
<circle cx="1086.4" cy="996.50" r="1.1" fill="#fff"/>
<circle cx="1141.5" cy="996.50" r="1.1" fill="#fff"/>
<line x1="1088.4" y1="1001.60" x2="1139.5" y2="1000.60" stroke="#fff" stroke-width="1.25" opacity="0.75"/>
<line x1="1091.2" y1="999.80" x2="1136.7" y2="1002.30" stroke="#888" stroke-width="0.6" opacity="0.7"/>
<circle cx="1086.4" cy="1001.10" r="1.1" fill="#fff"/>
<circle cx="1141.5" cy="1001.10" r="1.1" fill="#fff"/>
<line x1="1088.4" y1="1006.20" x2="1139.5" y2="1005.20" stroke="#fff" stroke-width="1.25" opacity="0.75"/>
<line x1="1091.2" y1="1004.40" x2="1136.7" y2="1006.90" stroke="#888" stroke-width="0.6" opacity="0.7"/>
<circle cx="1086.4" cy="1005.70" r="1.1" fill="#fff"/>
<circle cx="1141.5" cy="1005.70" r="1.1" fill="#fff"/>
<line x1="1088.4" y1="1010.80" x2="1139.5" y2="1009.80" stroke="#fff" stroke-width="1.25" opacity="0.75"/>
<line x1="1091.2" y1="1009.00" x2="1136.7" y2="1011.50" stroke="#888" stroke-width="0.6" opacity="0.7"/>
<circle cx="1086.4" cy="1010.30" r="1.1" fill="#fff"/>
<circle cx="1141.5" cy="1010.30" r="1.1" fill="#fff"/>
<line x1="1088.4" y1="1015.40" x2="1139.5" y2="1014.40" stroke="#fff" stroke-width="1.25" opacity="0.75"/>
<line x1="1091.2" y1="1013.60" x2="1136.7" y2="1016.10" stroke="#888" stroke-width="0.6" opacity="0.7"/>
<circle cx="1086.4" cy="1014.90" r="1.1" fill="#fff"/>
<circle cx="1141.5" cy="1014.90" r="1.1" fill="#fff"/>
<path d="M1067.5 1017.8 L1160 1017.8 L1166 1020.6 L1061.5 1020.6Z" fill="#111"/>
<path d="M1061.5 1020.6 L1060.8 1027.3 L1166.8 1027.3 L1166 1020.6" stroke="#111" stroke-width="1.15" fill="none" />
<path d="M1059.8 1027.3 L1059.8 1035.1 L1167.8 1035.1 L1167.8 1027.3" stroke="#111" stroke-width="1.15" fill="none" />
<path d="M1067 1035.2 L1067 1054.4 Q1067 1062.2 1074.8 1062.2 L1154 1062.2 Q1161.2 1062.2 1161.2 1054.4 L1161.2 1035.2" stroke="#111" stroke-width="1.15" fill="none" />
<path d="M1070.7 1035.2 L1070.7 1054.5 Q1070.7 1062.3 1078.5 1062.3" stroke="#111" stroke-width="1.15" fill="none" />
<line x1="1088.6" y1="1035.2" x2="1088.6" y2="1062.2" stroke="#111" stroke-width="1.15"/>
<line x1="1128.2" y1="1035.2" x2="1128.2" y2="1062.2" stroke="#111" stroke-width="1.15"/>
<path d="M1139.4 1035.2 L1139.4 1054.5 Q1139.4 1062.3 1132 1062.3" stroke="#111" stroke-width="1.15" fill="none" />
<path d="M1144.8 1035.2 L1144.8 1054.5 Q1144.8 1062.3 1137 1062.3" stroke="#111" stroke-width="1.15" fill="none" />
<line x1="1146" y1="1054" x2="1146" y2="1064.6" stroke="#111" stroke-width="1.15"/>
<line x1="1140" y1="1054" x2="1144.8" y2="1054" stroke="#111" stroke-width="1.15"/>
<line x1="1081.4" y1="1064.6" x2="1146.8" y2="1064.6" stroke="#111" stroke-width="1.15"/>
<rect x="1086.8" y="1064.6" width="54.30" height="18.00" fill="#262626"/>
<line x1="1088.4" y1="1067.40" x2="1139.5" y2="1066.40" stroke="#fff" stroke-width="1.25" opacity="0.75"/>
<line x1="1091.2" y1="1065.60" x2="1136.7" y2="1068.10" stroke="#888" stroke-width="0.6" opacity="0.7"/>
<circle cx="1086.4" cy="1066.90" r="1.1" fill="#fff"/>
<circle cx="1141.5" cy="1066.90" r="1.1" fill="#fff"/>
<line x1="1088.4" y1="1072.00" x2="1139.5" y2="1071.00" stroke="#fff" stroke-width="1.25" opacity="0.75"/>
<line x1="1091.2" y1="1070.20" x2="1136.7" y2="1072.70" stroke="#888" stroke-width="0.6" opacity="0.7"/>
<circle cx="1086.4" cy="1071.50" r="1.1" fill="#fff"/>
<circle cx="1141.5" cy="1071.50" r="1.1" fill="#fff"/>
<line x1="1088.4" y1="1076.60" x2="1139.5" y2="1075.60" stroke="#fff" stroke-width="1.25" opacity="0.75"/>
<line x1="1091.2" y1="1074.80" x2="1136.7" y2="1077.30" stroke="#888" stroke-width="0.6" opacity="0.7"/>
<circle cx="1086.4" cy="1076.10" r="1.1" fill="#fff"/>
<circle cx="1141.5" cy="1076.10" r="1.1" fill="#fff"/>
<line x1="1088.4" y1="1081.20" x2="1139.5" y2="1080.20" stroke="#fff" stroke-width="1.25" opacity="0.75"/>
<line x1="1091.2" y1="1079.40" x2="1136.7" y2="1081.90" stroke="#888" stroke-width="0.6" opacity="0.7"/>
<circle cx="1086.4" cy="1080.70" r="1.1" fill="#fff"/>
<circle cx="1141.5" cy="1080.70" r="1.1" fill="#fff"/>
<line x1="1345.4" y1="959.4" x2="1345.4" y2="1018" stroke="#111" stroke-width="1.15"/>
<line x1="1426.2" y1="959.4" x2="1426.2" y2="1018" stroke="#111" stroke-width="1.15"/>
<rect x="1360" y="959.4" width="52.20" height="2.60" stroke="#111" stroke-width="1.0" fill="none"/>
<rect x="1359.3999999999999" y="962" width="53.40" height="56.50" fill="#262626"/>
<line x1="1361.0" y1="964.80" x2="1411.2" y2="963.80" stroke="#fff" stroke-width="1.25" opacity="0.75"/>
<line x1="1363.8" y1="963.00" x2="1408.4" y2="965.50" stroke="#888" stroke-width="0.6" opacity="0.7"/>
<circle cx="1359.0" cy="964.30" r="1.1" fill="#fff"/>
<circle cx="1413.2" cy="964.30" r="1.1" fill="#fff"/>
<line x1="1361.0" y1="969.40" x2="1411.2" y2="968.40" stroke="#fff" stroke-width="1.25" opacity="0.75"/>
<line x1="1363.8" y1="967.60" x2="1408.4" y2="970.10" stroke="#888" stroke-width="0.6" opacity="0.7"/>
<circle cx="1359.0" cy="968.90" r="1.1" fill="#fff"/>
<circle cx="1413.2" cy="968.90" r="1.1" fill="#fff"/>
<line x1="1361.0" y1="974.00" x2="1411.2" y2="973.00" stroke="#fff" stroke-width="1.25" opacity="0.75"/>
<line x1="1363.8" y1="972.20" x2="1408.4" y2="974.70" stroke="#888" stroke-width="0.6" opacity="0.7"/>
<circle cx="1359.0" cy="973.50" r="1.1" fill="#fff"/>
<circle cx="1413.2" cy="973.50" r="1.1" fill="#fff"/>
<line x1="1361.0" y1="978.60" x2="1411.2" y2="977.60" stroke="#fff" stroke-width="1.25" opacity="0.75"/>
<line x1="1363.8" y1="976.80" x2="1408.4" y2="979.30" stroke="#888" stroke-width="0.6" opacity="0.7"/>
<circle cx="1359.0" cy="978.10" r="1.1" fill="#fff"/>
<circle cx="1413.2" cy="978.10" r="1.1" fill="#fff"/>
<line x1="1361.0" y1="983.20" x2="1411.2" y2="982.20" stroke="#fff" stroke-width="1.25" opacity="0.75"/>
<line x1="1363.8" y1="981.40" x2="1408.4" y2="983.90" stroke="#888" stroke-width="0.6" opacity="0.7"/>
<circle cx="1359.0" cy="982.70" r="1.1" fill="#fff"/>
<circle cx="1413.2" cy="982.70" r="1.1" fill="#fff"/>
<line x1="1361.0" y1="987.80" x2="1411.2" y2="986.80" stroke="#fff" stroke-width="1.25" opacity="0.75"/>
<line x1="1363.8" y1="986.00" x2="1408.4" y2="988.50" stroke="#888" stroke-width="0.6" opacity="0.7"/>
<circle cx="1359.0" cy="987.30" r="1.1" fill="#fff"/>
<circle cx="1413.2" cy="987.30" r="1.1" fill="#fff"/>
<line x1="1361.0" y1="992.40" x2="1411.2" y2="991.40" stroke="#fff" stroke-width="1.25" opacity="0.75"/>
<line x1="1363.8" y1="990.60" x2="1408.4" y2="993.10" stroke="#888" stroke-width="0.6" opacity="0.7"/>
<circle cx="1359.0" cy="991.90" r="1.1" fill="#fff"/>
<circle cx="1413.2" cy="991.90" r="1.1" fill="#fff"/>
<line x1="1361.0" y1="997.00" x2="1411.2" y2="996.00" stroke="#fff" stroke-width="1.25" opacity="0.75"/>
<line x1="1363.8" y1="995.20" x2="1408.4" y2="997.70" stroke="#888" stroke-width="0.6" opacity="0.7"/>
<circle cx="1359.0" cy="996.50" r="1.1" fill="#fff"/>
<circle cx="1413.2" cy="996.50" r="1.1" fill="#fff"/>
<line x1="1361.0" y1="1001.60" x2="1411.2" y2="1000.60" stroke="#fff" stroke-width="1.25" opacity="0.75"/>
<line x1="1363.8" y1="999.80" x2="1408.4" y2="1002.30" stroke="#888" stroke-width="0.6" opacity="0.7"/>
<circle cx="1359.0" cy="1001.10" r="1.1" fill="#fff"/>
<circle cx="1413.2" cy="1001.10" r="1.1" fill="#fff"/>
<line x1="1361.0" y1="1006.20" x2="1411.2" y2="1005.20" stroke="#fff" stroke-width="1.25" opacity="0.75"/>
<line x1="1363.8" y1="1004.40" x2="1408.4" y2="1006.90" stroke="#888" stroke-width="0.6" opacity="0.7"/>
<circle cx="1359.0" cy="1005.70" r="1.1" fill="#fff"/>
<circle cx="1413.2" cy="1005.70" r="1.1" fill="#fff"/>
<line x1="1361.0" y1="1010.80" x2="1411.2" y2="1009.80" stroke="#fff" stroke-width="1.25" opacity="0.75"/>
<line x1="1363.8" y1="1009.00" x2="1408.4" y2="1011.50" stroke="#888" stroke-width="0.6" opacity="0.7"/>
<circle cx="1359.0" cy="1010.30" r="1.1" fill="#fff"/>
<circle cx="1413.2" cy="1010.30" r="1.1" fill="#fff"/>
<line x1="1361.0" y1="1015.40" x2="1411.2" y2="1014.40" stroke="#fff" stroke-width="1.25" opacity="0.75"/>
<line x1="1363.8" y1="1013.60" x2="1408.4" y2="1016.10" stroke="#888" stroke-width="0.6" opacity="0.7"/>
<circle cx="1359.0" cy="1014.90" r="1.1" fill="#fff"/>
<circle cx="1413.2" cy="1014.90" r="1.1" fill="#fff"/>
<path d="M1338.8 1017.1999999999999 L1432.8 1017.1999999999999 L1438.8 1020.0 L1332.8 1020.0Z" fill="#111"/>
<path d="M1332.8 1020.0 L1332.1 1026.6 L1439.5 1026.6 L1438.8 1020.0" stroke="#111" stroke-width="1.15" fill="none" />
<path d="M1331.8 1026.6 L1331.8 1035 M1439.8 1026.6 L1439.8 1035" stroke="#111" stroke-width="1.15" fill="none" />
<line x1="1331.8" y1="1035" x2="1382.8" y2="1035" stroke="#111" stroke-width="1.15"/>
<line x1="1389.4" y1="1035" x2="1439.8" y2="1035" stroke="#111" stroke-width="1.15"/>
<path d="M1331.8 1035 L1331.8 1053 Q1331.8 1062 1340.8 1062 L1430.8 1062 Q1439.8 1062 1439.8 1053 L1439.8 1035" stroke="#111" stroke-width="1.15" fill="none" />
<path d="M1353.7 1035 L1353.7 1063.8 L1418.2 1063.8 L1418.2 1035" stroke="#111" stroke-width="1.15" fill="none" />
<path d="M1382.8 1035 L1382.8 1062 L1389.4 1062 L1389.4 1035" stroke="#111" stroke-width="1.15" fill="none" />
<line x1="1382.8" y1="1054" x2="1389.4" y2="1054" stroke="#111" stroke-width="1.15"/>
<rect x="1358.6" y="1063.8" width="55.00" height="18.50" fill="#262626"/>
<line x1="1360.2" y1="1066.60" x2="1412.0" y2="1065.60" stroke="#fff" stroke-width="1.25" opacity="0.75"/>
<line x1="1363" y1="1064.80" x2="1409.2" y2="1067.30" stroke="#888" stroke-width="0.6" opacity="0.7"/>
<circle cx="1358.2" cy="1066.10" r="1.1" fill="#fff"/>
<circle cx="1414.0" cy="1066.10" r="1.1" fill="#fff"/>
<line x1="1360.2" y1="1071.20" x2="1412.0" y2="1070.20" stroke="#fff" stroke-width="1.25" opacity="0.75"/>
<line x1="1363" y1="1069.40" x2="1409.2" y2="1071.90" stroke="#888" stroke-width="0.6" opacity="0.7"/>
<circle cx="1358.2" cy="1070.70" r="1.1" fill="#fff"/>
<circle cx="1414.0" cy="1070.70" r="1.1" fill="#fff"/>
<line x1="1360.2" y1="1075.80" x2="1412.0" y2="1074.80" stroke="#fff" stroke-width="1.25" opacity="0.75"/>
<line x1="1363" y1="1074.00" x2="1409.2" y2="1076.50" stroke="#888" stroke-width="0.6" opacity="0.7"/>
<circle cx="1358.2" cy="1075.30" r="1.1" fill="#fff"/>
<circle cx="1414.0" cy="1075.30" r="1.1" fill="#fff"/>
<line x1="1360.2" y1="1080.40" x2="1412.0" y2="1079.40" stroke="#fff" stroke-width="1.25" opacity="0.75"/>
<line x1="1363" y1="1078.60" x2="1409.2" y2="1081.10" stroke="#888" stroke-width="0.6" opacity="0.7"/>
<circle cx="1358.2" cy="1079.90" r="1.1" fill="#fff"/>
<circle cx="1414.0" cy="1079.90" r="1.1" fill="#fff"/>
</svg>
</body></html>
